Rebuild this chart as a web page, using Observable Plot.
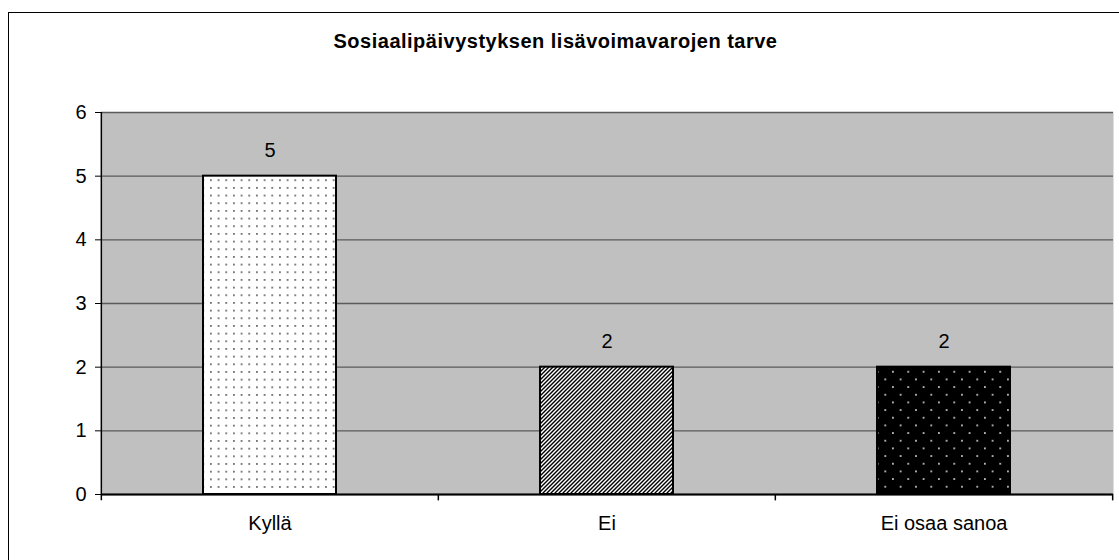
<!DOCTYPE html>
<html><head><meta charset="utf-8">
<script src="https://cdn.jsdelivr.net/npm/d3@7"></script>
<script src="https://cdn.jsdelivr.net/npm/@observablehq/plot@0.6"></script>
<style>
body{margin:0;background:#fff;}
#wrap{position:relative;width:1119px;height:560px;overflow:hidden;}
#border{position:absolute;left:8px;top:12px;width:1200px;height:600px;border:1.5px solid #000;box-sizing:border-box;}
#chart{position:absolute;left:0;top:0;}
</style></head><body>
<div id="wrap"><div id="border"></div><div id="chart"></div></div>
<script>
const title = "Sosiaalipäivystyksen lisävoimavarojen tarve";
const categories = ["Kyllä", "Ei", "Ei osaa sanoa"];
const values = [5, 2, 2];
const yTicks = [0, 1, 2, 3, 4, 5, 6];
const patterns = ["url(#pDots)", "url(#pHatch)", "url(#pBlackDots)"];

const data = categories.map((c, i) => ({category: c, value: values[i]}));
const W = 1119, H = 560, mL = 101, mR = 6, mT = 112, mB = 66;
const step = (W - mL - mR) / categories.length;

const chart = Plot.plot({
  width: W, height: H,
  marginLeft: mL, marginRight: mR, marginTop: mT, marginBottom: mB,
  style: {fontFamily: "Liberation Sans, Arial, sans-serif", fontSize: "20px", background: "transparent", overflow: "visible"},
  x: {domain: categories, paddingInner: 0.605, paddingOuter: 0.3025, label: null},
  y: {domain: [0, 6], label: null},
  color: {domain: categories, range: patterns},
  marks: [
    Plot.frame({fill: "#c0c0c0", stroke: null}),
    Plot.ruleY(yTicks, {stroke: "#5a5a5a", strokeWidth: 1.3}),
    Plot.axisY({ticks: yTicks, tickFormat: "d", tickSize: 6, tickPadding: 9, fontSize: 20, stroke: "#000", label: null}),
    Plot.axisX({tickSize: 0, tickPadding: 21, fontSize: 20, label: null}),
    Plot.barY(data, {x: "category", y: "value", fill: "category", stroke: "#000", strokeWidth: 2}),
    Plot.ruleY([0], {stroke: "#000", strokeWidth: 2}),
    Plot.ruleX(categories, {x: d => d, y1: -0.1, y2: d => d === categories[0] ? 6 : 0, dx: -step / 2, stroke: "#000", strokeWidth: 1.5}),
    Plot.ruleX([categories[categories.length - 1]], {x: d => d, y1: -0.1, y2: 0, dx: step / 2, stroke: "#000", strokeWidth: 1.5}),
    Plot.text(data, {x: "category", y: "value", text: d => String(d.value), dy: -26, fontSize: 20, fill: "#000"}),
    Plot.text([title], {frameAnchor: "top", text: d => d, lineAnchor: "middle", dx: -52, dy: -70.5, fontWeight: "bold", fontSize: 20, fill: "#000", className: "title"})
  ]
});
document.getElementById("chart").appendChild(chart);

const svg = d3.select(chart.tagName.toLowerCase() === "svg" ? chart : chart.querySelector("svg"));
svg.selectAll(".title text").style("letter-spacing", "0.5px");
const defs = svg.insert("defs", ":first-child");
// white with dark dots
const p1 = defs.append("pattern").attr("id", "pDots").attr("patternUnits", "userSpaceOnUse").attr("width", 7.67).attr("height", 7.67);
p1.append("rect").attr("width", 7.67).attr("height", 7.67).attr("fill", "#fff");
p1.append("circle").attr("cx", 3.8).attr("cy", 3.8).attr("r", 0.85).attr("fill", "#333");
// diagonal hatch
const p2 = defs.append("pattern").attr("id", "pHatch").attr("patternUnits", "userSpaceOnUse").attr("width", 4).attr("height", 4);
p2.append("rect").attr("width", 4).attr("height", 4).attr("fill", "#fff");
p2.append("path").attr("d", "M0,4 L4,0 M-1,1 L1,-1 M3,5 L5,3").attr("stroke", "#000").attr("stroke-width", 1.4);
// black with white dots
const p3 = defs.append("pattern").attr("id", "pBlackDots").attr("patternUnits", "userSpaceOnUse").attr("width", 15.33).attr("height", 15.33);
p3.append("rect").attr("width", 15.33).attr("height", 15.33).attr("fill", "#000");
p3.append("circle").attr("cx", 3.8).attr("cy", 3.8).attr("r", 0.9).attr("fill", "#eee");
p3.append("circle").attr("cx", 11.47).attr("cy", 11.47).attr("r", 0.9).attr("fill", "#eee");
</script>
</body></html>
